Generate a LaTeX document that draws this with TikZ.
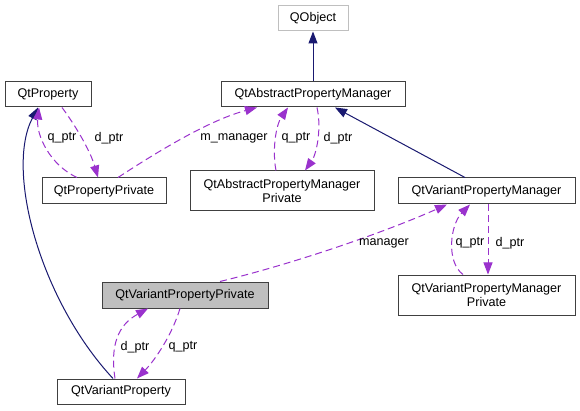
\documentclass[tikz,border=0pt]{standalone}
\usepackage{fontspec}
\setmainfont{Liberation Sans}
\usetikzlibrary{arrows.meta}
\definecolor{edgepurple}{HTML}{9A32CD}
\definecolor{edgenavy}{HTML}{191970}
\definecolor{boxgray}{HTML}{BFBFBF}
\definecolor{boxline}{HTML}{404040}
\begin{document}
\begin{tikzpicture}[x=1pt,y=-1pt,
  every node/.style={font=\fontsize{12.6}{14}\selectfont},
  box/.style={draw=boxline, line width=1pt, fill=white, inner sep=0pt, align=center},
  inherit/.style={draw=edgenavy, line width=1pt, -{Triangle[length=12pt,width=9pt]}},
  usage/.style={draw=edgepurple, line width=1pt, dash pattern=on 7pt off 4pt, -{Triangle[length=12pt,width=9pt]}},
  lbl/.style={inner sep=1pt}]
\useasboundingbox (0,0) rectangle (580,411);
\fill[white] (0,0) rectangle (580,411);

\node[box, draw=boxgray, minimum width=70pt, minimum height=25pt] (qobj) at (313,18.5) {QObject};
\node[box, minimum width=86pt, minimum height=25pt] (qtprop) at (48,94.5) {QtProperty};
\node[box, minimum width=184pt, minimum height=25pt] (qapm) at (313,94.5) {QtAbstractPropertyManager};
\node[box, minimum width=124pt, minimum height=26pt] (qpp) at (104,191) {QtPropertyPrivate};
\node[box, minimum width=184pt, minimum height=40pt] (qapmp) at (282,191) {QtAbstractPropertyManager\\Private};
\node[box, minimum width=177pt, minimum height=26pt] (qvpm) at (486.5,191) {QtVariantPropertyManager};
\node[box, minimum width=177pt, minimum height=40pt] (qvpmp) at (486.5,295) {QtVariantPropertyManager\\Private};
\node[box, fill=boxgray, minimum width=166pt, minimum height=26pt] (qvpp) at (185,295) {QtVariantPropertyPrivate};
\node[box, minimum width=128pt, minimum height=25pt] (qvp) at (121,391.5) {QtVariantProperty};

% inheritance
\draw[inherit] (qapm.north) -- (qobj.south);
\draw[inherit] ([xshift=-21.5pt]qvpm.north) -- ([xshift=22pt]qapm.south);
\draw[inherit] ([xshift=-8pt]qvp.north) .. controls (40,300) and (5,170) .. ([xshift=-10pt]qtprop.south);

% QtProperty <-> QtPropertyPrivate
\draw[usage] ([xshift=-27pt]qpp.north) .. controls (50,165) and (36,135) .. ([xshift=-9pt]qtprop.south);
\node[lbl] (l1) at (62,138) {q\_ptr};
\draw[usage] ([xshift=14pt]qtprop.south) .. controls (75,125) and (90,150) .. ([xshift=-6pt]qpp.north);
\node[lbl] (l2) at (109,138) {d\_ptr};

% m_manager
\draw[usage] ([xshift=14pt]qpp.north) .. controls (160,150) and (210,120) .. ([xshift=-56pt]qapm.south);
\node[lbl] (l3) at (234,138) {m\_manager};

% QtAbstractPropertyManager <-> Private
\draw[usage] ([xshift=-6pt]qapmp.north) .. controls (272,150) and (276,125) .. ([xshift=-25pt]qapm.south);
\node[lbl] (l4) at (296,138) {q\_ptr};
\draw[usage] ([xshift=4pt]qapm.south) .. controls (322,130) and (316,155) .. ([xshift=23pt]qapmp.north);
\node[lbl] (l5) at (338,138) {d\_ptr};

% manager
\draw[usage] ([xshift=35pt]qvpp.north) .. controls (300,262) and (390,230) .. ([xshift=-39.5pt]qvpm.south);
\node[lbl] (l6) at (384,243) {manager};

% QtVariantPropertyManager <-> Private
\draw[usage] ([xshift=-23.5pt]qvpmp.north) .. controls (446,262) and (450,225) .. ([xshift=-16.5pt]qvpm.south);
\node[lbl] (l7) at (470,243) {q\_ptr};
\draw[usage] ([xshift=1.5pt]qvpm.south) -- ([xshift=1.5pt]qvpmp.north);
\node[lbl] (l8) at (510,243) {d\_ptr};

% QtVariantProperty <-> Private
\draw[usage] ([xshift=-6pt]qvp.north) .. controls (110,345) and (118,325) .. ([xshift=-37pt]qvpp.south);
\node[lbl] (l9) at (135,347) {d\_ptr};
\draw[usage] ([xshift=-5pt]qvpp.south) .. controls (172,335) and (155,360) .. ([xshift=16pt]qvp.north);
\node[lbl] (l10) at (183,347) {q\_ptr};
\end{tikzpicture}
\end{document}
